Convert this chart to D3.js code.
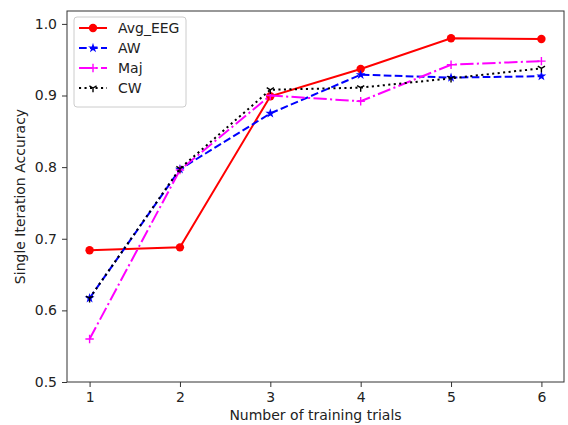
<!DOCTYPE html>
<html>
<head>
<meta charset="utf-8">
<script src="https://cdnjs.cloudflare.com/ajax/libs/d3/7.8.5/d3.min.js"></script>
<style>
  body { margin: 0; background: #fff; }
  text { font-family: "DejaVu Sans", sans-serif; fill: #222; }
</style>
</head>
<body>
<div class="container"></div>
<script>
const trials = [1, 2, 3, 4, 5, 6];
const avgEEG = [0.684, 0.688, 0.899, 0.937, 0.980, 0.979];
const aw = [0.617, 0.797, 0.875, 0.929, 0.925, 0.927];
const maj = [0.560, 0.796, 0.900, 0.892, 0.943, 0.948];
const cw = [0.617, 0.798, 0.908, 0.911, 0.924, 0.938];
const yTicks = [0.5, 0.6, 0.7, 0.8, 0.9, 1.0];

const series = [
    {name: 'Avg_EEG', values: avgEEG, color: '#ff0000', dash: null, marker: 'circle'},
    {name: 'AW', values: aw, color: '#0000ff', dash: '7.7,3.3', marker: 'star'},
    {name: 'Maj', values: maj, color: '#ff00ff', dash: '13.3,3.3,2.1,3.3', marker: 'plus'},
    {name: 'CW', values: cw, color: '#000000', dash: '2.1,3.4', marker: 'tri'}
];

const W = 568, H = 425;
const m = {left: 67, right: 4, top: 11, bottom: 43};
const fs = 14;

const svg = d3.select('.container')
    .append('svg')
    .attr('width', W)
    .attr('height', H);

const x = d3.scaleLinear().domain([0.75, 6.25]).range([m.left, W - m.right]);
const y = d3.scaleLinear().domain([0.5, 1.018]).range([H - m.bottom, m.top]);

// axes
const xAxis = svg.append('g')
    .attr('transform', `translate(0,${H - m.bottom})`)
    .call(d3.axisBottom(x).tickValues(trials).tickFormat(d3.format('d')).tickSize(5).tickPadding(5));
const yAxis = svg.append('g')
    .attr('transform', `translate(${m.left},0)`)
    .call(d3.axisLeft(y).tickValues(yTicks).tickFormat(d3.format('.1f')).tickSize(5).tickPadding(5));

[xAxis, yAxis].forEach(g => {
    g.select('.domain').remove();
    g.selectAll('text').attr('font-size', fs).style('fill', '#222');
    g.selectAll('line').attr('stroke', '#333');
});

svg.append('rect')
    .attr('x', m.left).attr('y', m.top)
    .attr('width', W - m.right - m.left)
    .attr('height', H - m.bottom - m.top)
    .attr('fill', 'none')
    .attr('stroke', '#333')
    .attr('stroke-width', 1);

svg.append('text')
    .attr('x', (m.left + W - m.right) / 2)
    .attr('y', 420)
    .attr('text-anchor', 'middle')
    .attr('font-size', fs)
    .text('Number of training trials');

svg.append('text')
    .attr('transform', `translate(25,${(m.top + H - m.bottom) / 2}) rotate(-90)`)
    .attr('text-anchor', 'middle')
    .attr('font-size', fs)
    .text('Single Iteration Accuracy');

// markers
let drawMarker = (g, type, color, cx, cy) => {
    if (type == 'circle') {
        g.append('circle').attr('cx', cx).attr('cy', cy).attr('r', 4.2).attr('fill', color);
    } else if (type == 'star') {
        g.append('path')
            .attr('d', d3.symbol().type(d3.symbolStar).size(30)())
            .attr('transform', `translate(${cx},${cy})`)
            .attr('fill', color);
    } else if (type == 'plus') {
        g.append('path')
            .attr('d', `M${cx - 4.2},${cy}H${cx + 4.2}M${cx},${cy - 4.2}V${cy + 4.2}`)
            .attr('stroke', color).attr('stroke-width', 1.4).attr('fill', 'none');
    } else if (type == 'tri') {
        g.append('path')
            .attr('d', `M${cx},${cy}V${cy + 4.2}M${cx},${cy}L${cx - 3.6},${cy - 2.1}M${cx},${cy}L${cx + 3.6},${cy - 2.1}`)
            .attr('stroke', color).attr('stroke-width', 1.4).attr('fill', 'none');
    }
};

const line = d3.line().x((d, i) => x(trials[i])).y(d => y(d));

series.forEach(s => {
    const g = svg.append('g');
    g.append('path')
        .datum(s.values)
        .attr('d', line)
        .attr('fill', 'none')
        .attr('stroke', s.color)
        .attr('stroke-width', 2)
        .attr('stroke-dasharray', s.dash);
    s.values.forEach((v, i) => drawMarker(g, s.marker, s.color, x(trials[i]), y(v)));
});

// legend
const leg = svg.append('g').attr('transform', 'translate(74,17)');
leg.append('rect')
    .attr('width', 112).attr('height', 90)
    .attr('rx', 3)
    .attr('fill', '#fff').attr('fill-opacity', 0.8)
    .attr('stroke', '#ccc');
series.forEach((s, i) => {
    const ly = 11 + i * 20;
    leg.append('line')
        .attr('x1', 5).attr('x2', 33).attr('y1', ly).attr('y2', ly)
        .attr('stroke', s.color).attr('stroke-width', 2)
        .attr('stroke-dasharray', s.dash);
    drawMarker(leg, s.marker, s.color, 19, ly);
    leg.append('text')
        .attr('x', 44).attr('y', ly + 5)
        .attr('font-size', fs)
        .text(s.name);
});
</script>
</body>
</html>
